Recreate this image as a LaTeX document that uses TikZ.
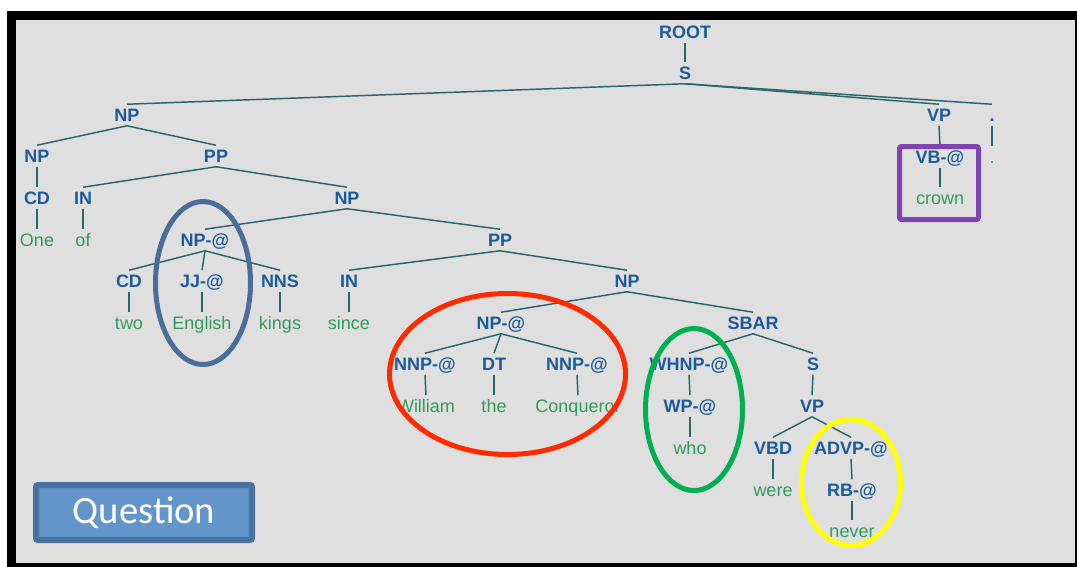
\documentclass[tikz,border=0pt]{standalone}
\usepackage{fontspec}
\newfontfamily\trfont{Liberation Sans}
\newfontfamily\qfont{Carlito}
\definecolor{bg}{HTML}{DFDFDF}
\definecolor{labblue}{HTML}{1C5A9C}
\definecolor{wordgreen}{HTML}{33995C}
\definecolor{edgecol}{HTML}{2A6568}
\definecolor{ellblue}{HTML}{4A6D9A}
\definecolor{ellred}{HTML}{FF2A00}
\definecolor{ellgreen}{HTML}{00B050}
\definecolor{ellyellow}{HTML}{FFFF00}
\definecolor{boxpurple}{HTML}{7E45B1}
\definecolor{qfill}{HTML}{6296CB}
\definecolor{qdraw}{HTML}{4A72A0}
\tikzset{
  tnode/.style={inner sep=0pt, minimum height=15.75pt, text height=9.7pt, text depth=0pt, font=\trfont\fontsize{13.5}{15}\selectfont},
  lab/.style={tnode, text=labblue, font=\trfont\bfseries\fontsize{13.5}{15}\selectfont},
  wd/.style={tnode, text=wordgreen},
  br/.style={draw=edgecol, line width=1.1pt},
  hl/.style={line width=3.75pt}
}
\begin{document}
\begin{tikzpicture}[x=0.75pt,y=-0.75pt]
\useasboundingbox (0,0) rectangle (1077,567);
\fill[white] (0,0) rectangle (1077,567);
\fill[black] (7,11) rectangle (1077,567);
\fill[bg] (16,20) rectangle (1075,563);
% nodes
\node[lab] (root) at (685,32) {ROOT};
\node[lab] (s) at (685,73) {S};
\node[lab] (np1) at (127,115) {NP};
\node[lab] (vp1) at (939,115) {VP};
\node[lab] (dot1) at (992,115) {.};
\node[lab] (np2) at (37,156) {NP};
\node[lab] (pp1) at (216,156) {PP};
\node[lab] (vb) at (940,157) {VB-@};
\node[wd] (dotw) at (992,157) {.};
\node[lab] (cd1) at (37,198) {CD};
\node[lab] (in1) at (83,198) {IN};
\node[lab] (np3) at (347,198) {NP};
\node[wd] (crown) at (940,198) {crown};
\node[wd] (one) at (37,240) {One};
\node[wd] (of) at (83,240) {of};
\node[lab] (npa1) at (205,240) {NP-@};
\node[lab] (pp2) at (500,240) {PP};
\node[lab] (cd2) at (129,281) {CD};
\node[lab] (jj) at (202,281) {JJ-@};
\node[lab] (nns) at (280,281) {NNS};
\node[lab] (in2) at (349,281) {IN};
\node[lab] (np4) at (627,281) {NP};
\node[wd] (two) at (129,323) {two};
\node[wd] (english) at (202,323) {English};
\node[wd] (kings) at (280,323) {kings};
\node[wd] (since) at (349,323) {since};
\node[lab] (npa2) at (501,323) {NP-@};
\node[lab] (sbar) at (753,323) {SBAR};
\node[lab] (nnp1) at (425,364) {NNP-@};
\node[lab] (dt) at (494,364) {DT};
\node[lab] (nnp2) at (577,364) {NNP-@};
\node[lab] (whnp) at (689,364) {WHNP-@};
\node[lab] (s2) at (813,364) {S};
\node[wd] (william) at (426,406) {William};
\node[wd] (the) at (494,406) {the};
\node[wd] (conq) at (578,406) {Conqueror};
\node[lab] (wp) at (690,406) {WP-@};
\node[lab] (vp2) at (812,406) {VP};
\node[wd] (who) at (690,448) {who};
\node[lab] (vbd) at (773,448) {VBD};
\node[lab] (advp) at (851,448) {ADVP-@};
\node[wd] (were) at (773,490) {were};
\node[lab] (rb) at (852,490) {RB-@};
\node[wd] (never) at (852,531) {never};
% branches
\foreach \p/\c in {root/s, s/np1, s/vp1, s/dot1, np1/np2, np1/pp1, vp1/vb, dot1/dotw,
  np2/cd1, pp1/in1, pp1/np3, vb/crown, cd1/one, in1/of, np3/npa1, np3/pp2,
  npa1/cd2, npa1/jj, npa1/nns, pp2/in2, pp2/np4, cd2/two, jj/english, nns/kings, in2/since,
  np4/npa2, np4/sbar, npa2/nnp1, npa2/dt, npa2/nnp2, sbar/whnp, sbar/s2,
  nnp1/william, dt/the, nnp2/conq, whnp/wp, s2/vp2, wp/who, vp2/vbd, vp2/advp,
  vbd/were, advp/rb, rb/never}
  \draw[br] (\p.south) -- (\c.north);
% highlights
\draw[hl, ellblue] (203,283) ellipse [x radius=47.5, y radius=81.5];
\draw[hl, ellred] (507.5,374) ellipse [x radius=118, y radius=80.5];
\draw[hl, ellgreen] (694,409.5) ellipse [x radius=48.5, y radius=81];
\draw[hl, ellyellow] (851,482.5) ellipse [x radius=49.5, y radius=63];
\draw[hl, boxpurple, rounded corners=1.5pt] (899.5,146.5) rectangle (978.5,219.5);
% question box
\draw[line width=4.5pt, draw=qdraw, fill=qfill, rounded corners=1.5pt] (36,485) rectangle (252,540);
\node[text=white, font=\qfont\fontsize{29}{32}\selectfont, inner sep=0pt] (q) at (144,513) {Question};
\end{tikzpicture}
\end{document}
